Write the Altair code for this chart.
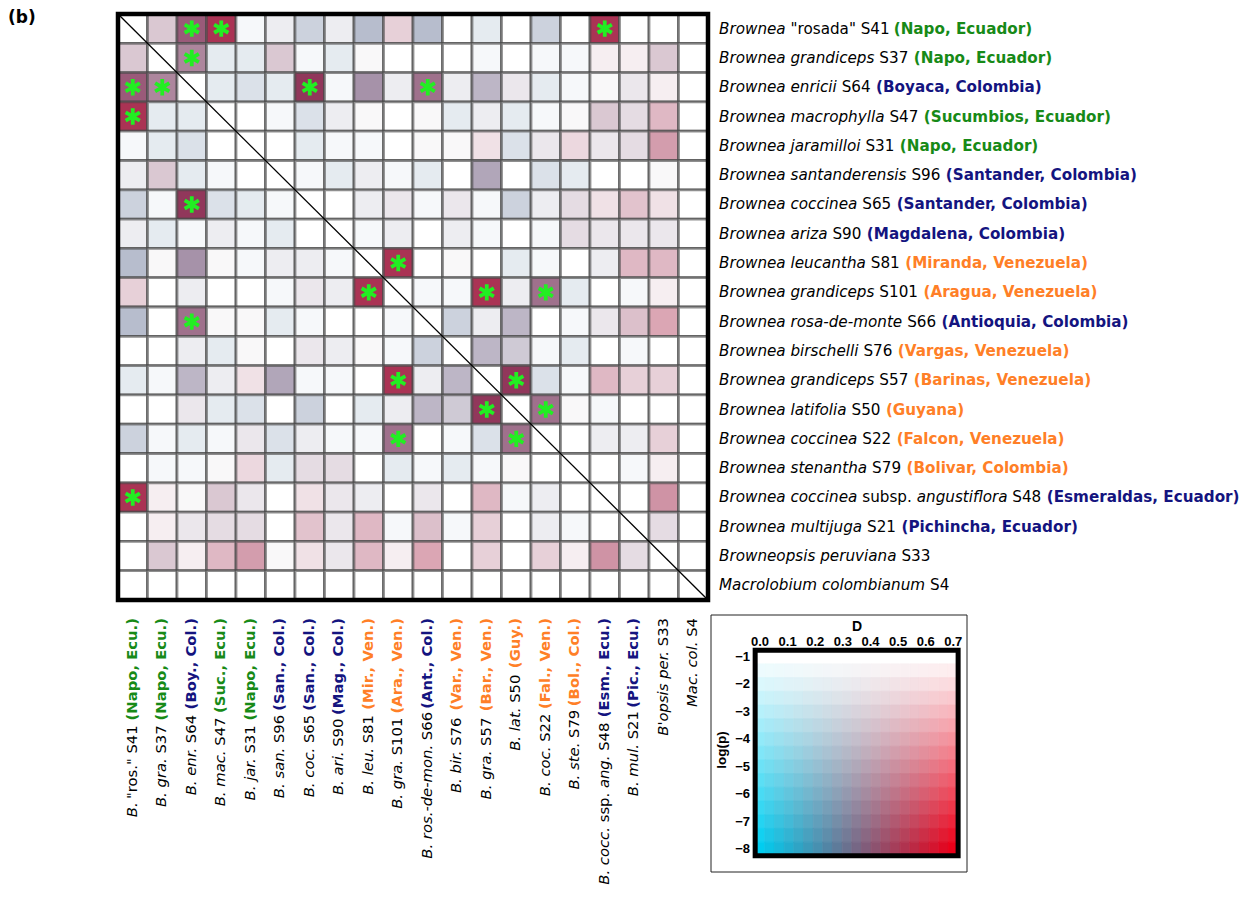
import altair as alt
import pandas as pd

# ---------------- data ----------------
RIGHT_LABELS = [
    '_Brownea_ "rosada" S41', '_Brownea grandiceps_ S37', '_Brownea enricii_ S64',
    '_Brownea macrophylla_ S47', '_Brownea jaramilloi_ S31', '_Brownea santanderensis_ S96',
    '_Brownea coccinea_ S65', '_Brownea ariza_ S90', '_Brownea leucantha_ S81',
    '_Brownea grandiceps_ S101', '_Brownea rosa-de-monte_ S66', '_Brownea birschelli_ S76',
    '_Brownea grandiceps_ S57', '_Brownea latifolia_ S50', '_Brownea coccinea_ S22',
    '_Brownea stenantha_ S79', '_Brownea coccinea_ subsp. _angustiflora_ S48',
    '_Brownea multijuga_ S21', '_Browneopsis peruviana_ S33', '_Macrolobium colombianum_ S4',
]
RIGHT_LOCS = [
    'Napo, Ecuador', 'Napo, Ecuador', 'Boyaca, Colombia', 'Sucumbios, Ecuador', 'Napo, Ecuador',
    'Santander, Colombia', 'Santander, Colombia', 'Magdalena, Colombia', 'Miranda, Venezuela',
    'Aragua, Venezuela', 'Antioquia, Colombia', 'Vargas, Venezuela', 'Barinas, Venezuela',
    'Guyana', 'Falcon, Venezuela', 'Bolivar, Colombia', 'Esmeraldas, Ecuador',
    'Pichincha, Ecuador', '', '',
]
BOTTOM_LABELS = [
    '_B._ "ros." S41', '_B. gra._ S37', '_B. enr._ S64', '_B. mac._ S47', '_B. jar._ S31',
    '_B. san._ S96', '_B. coc._ S65', '_B. ari._ S90', '_B. leu._ S81', '_B. gra._ S101',
    '_B. ros.-de-mon._ S66', '_B. bir._ S76', '_B. gra._ S57', '_B. lat._ S50', '_B. coc._ S22',
    '_B. ste._ S79', '_B. cocc._ ssp. _ang._ S48', '_B. mul._ S21', "_B'opsis per._ S33",
    '_Mac. col._ S4',
]
BOTTOM_LOCS = [
    'Napo, Ecu.', 'Napo, Ecu.', 'Boy., Col.', 'Suc., Ecu.', 'Napo, Ecu.', 'San., Col.',
    'San., Col.', 'Mag., Col.', 'Mir., Ven.', 'Ara., Ven.', 'Ant., Col.', 'Var., Ven.',
    'Bar., Ven.', 'Guy.', 'Fal., Ven.', 'Bol., Col.', 'Esm., Ecu.', 'Pic., Ecu.', '', '',
]
GROUPS = [
    'Amazonian Ecuador', 'Amazonian Ecuador', 'Colombia / W Ecuador', 'Amazonian Ecuador',
    'Amazonian Ecuador', 'Colombia / W Ecuador', 'Colombia / W Ecuador', 'Colombia / W Ecuador',
    'Venezuela / Guyana', 'Venezuela / Guyana', 'Colombia / W Ecuador', 'Venezuela / Guyana',
    'Venezuela / Guyana', 'Venezuela / Guyana', 'Venezuela / Guyana', 'Venezuela / Guyana',
    'Colombia / W Ecuador', 'Colombia / W Ecuador', 'outgroup', 'outgroup',
]
GROUP_NAMES = ['Amazonian Ecuador', 'Colombia / W Ecuador', 'Venezuela / Guyana', 'outgroup']
GROUP_COLORS = ['#178a17', '#14147f', '#ff7f27', '#000000']

# lower triangle (row i, columns 0..i-1); matrix is symmetric. Row 19 (outgroup) has no test.
D_LOWER = [
    [],
    [0.45],
    [0.50, 0.45],
    [0.68, 0.12, 0.12],
    [0.10, 0.12, 0.15, 0.20],
    [0.25, 0.45, 0.12, 0.10, 0.20],
    [0.18, 0.10, 0.55, 0.15, 0.12, 0.10],
    [0.25, 0.12, 0.10, 0.25, 0.10, 0.12, 0.20],
    [0.20, 0.35, 0.35, 0.35, 0.10, 0.25, 0.25, 0.10],
    [0.60, 0.20, 0.25, 0.20, 0.20, 0.10, 0.35, 0.25, 0.68],
    [0.20, 0.20, 0.45, 0.35, 0.35, 0.12, 0.10, 0.20, 0.20, 0.10],
    [0.20, 0.20, 0.25, 0.12, 0.35, 0.20, 0.35, 0.25, 0.35, 0.10, 0.18],
    [0.12, 0.10, 0.30, 0.25, 0.60, 0.32, 0.10, 0.10, 0.20, 0.68, 0.25, 0.30],
    [0.20, 0.20, 0.35, 0.12, 0.15, 0.20, 0.18, 0.20, 0.12, 0.25, 0.30, 0.30, 0.55],
    [0.18, 0.10, 0.12, 0.10, 0.35, 0.15, 0.25, 0.10, 0.10, 0.45, 0.20, 0.10, 0.15, 0.45],
    [0.20, 0.10, 0.10, 0.35, 0.62, 0.12, 0.40, 0.40, 0.20, 0.12, 0.10, 0.12, 0.10, 0.35, 0.20],
    [0.68, 0.55, 0.35, 0.45, 0.35, 0.20, 0.60, 0.35, 0.25, 0.20, 0.35, 0.20, 0.65, 0.10, 0.25, 0.20],
    [0.20, 0.55, 0.35, 0.40, 0.40, 0.20, 0.62, 0.35, 0.65, 0.10, 0.55, 0.10, 0.60, 0.20, 0.25, 0.10, 0.20],
    [0.20, 0.45, 0.55, 0.65, 0.65, 0.35, 0.60, 0.35, 0.65, 0.55, 0.70, 0.20, 0.60, 0.20, 0.60, 0.55, 0.65, 0.40],
]
LOGP_LOWER = [
    [],
    [-3.1],
    [-7.0, -5.6],
    [-7.5, -2.05, -2.05],
    [-1.35, -2.05, -2.5, -1.0],
    [-1.8, -3.1, -2.05, -1.35, -1.0],
    [-3.2, -1.35, -8.0, -2.5, -2.05, -1.35],
    [-1.8, -2.05, -1.35, -1.8, -1.35, -2.05, -1.0],
    [-4.15, -1.3, -5.5, -1.3, -1.35, -1.8, -1.8, -1.35],
    [-2.6, -1.0, -1.8, -1.0, -1.0, -1.35, -2.0, -1.8, -7.5],
    [-4.15, -1.0, -6.4, -1.3, -1.3, -2.05, -1.35, -1.0, -1.0, -1.35],
    [-1.0, -1.0, -1.8, -2.05, -1.3, -1.0, -2.0, -1.8, -1.3, -1.35, -3.2],
    [-2.05, -1.35, -4.15, -1.8, -2.0, -4.8, -1.35, -1.35, -1.0, -7.5, -1.8, -4.15],
    [-1.0, -1.0, -2.0, -2.05, -2.5, -1.0, -3.2, -1.0, -2.05, -1.8, -4.15, -3.3, -8.0],
    [-3.2, -1.35, -2.05, -1.35, -2.0, -2.5, -1.8, -1.35, -1.35, -6.4, -1.0, -1.35, -2.5, -6.4],
    [-1.0, -1.35, -1.35, -1.3, -2.3, -2.05, -2.4, -2.4, -1.0, -2.05, -1.35, -2.05, -1.35, -1.3, -1.0],
    [-7.5, -1.6, -1.3, -3.1, -2.0, -1.0, -2.0, -2.0, -1.8, -1.0, -2.0, -1.0, -3.3, -1.35, -1.8, -1.0],
    [-1.0, -1.6, -2.0, -2.4, -2.4, -1.0, -3.0, -2.0, -3.3, -1.35, -3.2, -1.35, -2.6, -1.0, -1.8, -1.35, -1.0],
    [-1.0, -3.1, -1.6, -3.3, -4.2, -1.3, -2.0, -2.0, -3.3, -1.6, -3.8, -1.0, -2.6, -1.0, -2.6, -1.6, -4.5, -2.4],
]
SIG_PAIRS = [(2, 0), (2, 1), (3, 0), (6, 2), (9, 8), (10, 2), (12, 9), (13, 12), (14, 9), (14, 13), (16, 0)]

LEG_D_TICKS = [0.0, 0.1, 0.2, 0.3, 0.4, 0.5, 0.6, 0.7]
LEG_P_TICKS = [-1, -2, -3, -4, -5, -6, -7, -8]
LEG_D_STEPS = [round(0.035 * k, 4) for k in range(21)]
LEG_P_STEPS = [-1 - 0.5 * k for k in range(15)]

# ---------------- layout ----------------
W, H = 1239, 884
N = len(RIGHT_LABELS)
FONT = 'DejaVu Sans'
FS_RIGHT = 15.2
FS_BOTTOM = 14.8
MX = alt.Scale(domain=[0, N], range=[110, 700], nice=False, zero=False)
MY = alt.Scale(domain=[0, N], range=[6, 592], nice=False, zero=False)
PX = alt.Scale(domain=[0, W], range=[0, W], nice=False, zero=False)
PY = alt.Scale(domain=[0, H], range=[0, H], nice=False, zero=False)
LX = alt.Scale(domain=[0, 0.7], range=[752, 945.3], nice=False, zero=False)
LY = alt.Scale(domain=[-1, -8], range=[649, 841], nice=False, zero=False)
RIGHT_X0 = 711
BOTTOM_Y0 = 610

# DejaVu Sans advance widths (units per 2048 em)
GLYPH = {' ': 651, '"': 821, "'": 563, '(': 799, ')': 799, ',': 651, '-': 739, '.': 651,
         'A': 1401, 'B': 1405, 'C': 1430, 'D': 1577, 'E': 1294, 'F': 1178, 'G': 1587, 'H': 1540,
         'I': 604, 'M': 1767, 'N': 1532, 'P': 1235, 'S': 1300, 'V': 1401,
         'a': 1255, 'b': 1300, 'c': 1126, 'd': 1300, 'e': 1260, 'f': 721, 'g': 1300, 'h': 1298,
         'i': 569, 'j': 569, 'k': 1186, 'l': 569, 'm': 1995, 'n': 1298, 'o': 1253, 'p': 1300,
         'q': 1300, 'r': 842, 's': 1067, 't': 803, 'u': 1298, 'v': 1212, 'w': 1675, 'x': 1212,
         'y': 1212, 'z': 1075}
for dgt in '0123456789':
    GLYPH[dgt] = 1303


def text_w(s, bold, fs):
    return sum(GLYPH.get(ch, 1250) for ch in s) / 2048 * fs * (1.12 if bold else 1.0)


def segments(label, loc):
    segs = []
    for i, part in enumerate(label.split('_')):
        if part:
            segs.append((part, 'italic' if i % 2 else 'normal'))
    if loc:
        segs.append((' (' + loc + ')', 'bold'))
    return segs


right_rows, bottom_rows = [], []
for i in range(N):
    off = 0.0
    for txt, sty in segments(RIGHT_LABELS[i], RIGHT_LOCS[i]):
        lead = txt[:len(txt) - len(txt.lstrip())]
        right_rows.append(dict(px=RIGHT_X0 + off + text_w(lead, sty == 'bold', FS_RIGHT), ry=i + 0.5,
                               text=txt.strip(), style=sty, group=GROUPS[i]))
        off += text_w(txt, sty == 'bold', FS_RIGHT)
    off = 0.0
    for txt, sty in reversed(segments(BOTTOM_LABELS[i], BOTTOM_LOCS[i])):
        trail = txt[len(txt.rstrip()):]
        bottom_rows.append(dict(cx=i + 0.5, py=BOTTOM_Y0 + off + text_w(trail, sty == 'bold', FS_BOTTOM),
                                text=txt.strip(), style=sty, group=GROUPS[i]))
        off += text_w(txt, sty == 'bold', FS_BOTTOM)
right_df = pd.DataFrame(right_rows)
bottom_df = pd.DataFrame(bottom_rows)

cells = []
for r in range(N):
    for c in range(N):
        D = P = None
        if r != c and max(r, c) < len(D_LOWER):
            a, b = max(r, c), min(r, c)
            D, P = D_LOWER[a][b], LOGP_LOWER[a][b]
        cells.append(dict(c0=c, c1=c + 1, r0=r, r1=r + 1, D=D, logp=P))
cells_df = pd.DataFrame(cells)

sig = []
for a, b in SIG_PAIRS:
    sig.append(dict(cx=b + 0.5, ry=a + 0.5))
    sig.append(dict(cx=a + 0.5, ry=b + 0.5))
sig_df = pd.DataFrame(sig)

leg = []
for d in LEG_D_STEPS:
    for p in LEG_P_STEPS:
        leg.append(dict(D=d, logp=p, d0=d - 0.0175, d1=d + 0.0175, p0=p + 0.25, p1=p - 0.25))
leg_df = pd.DataFrame(leg)

# ---------------- layers ----------------
T_EXPR = 'isValid(datum.logp) ? clamp((-1 - datum.logp) / 7, 0, 1) : 0'
DN_EXPR = 'isValid(datum.D) ? clamp(datum.D / 0.7, 0, 1) : 0'


def rgb_expr(r, g, b):
    def ch(base):
        return "round(255 + ((%s) - 255) * datum.t)" % base
    return "'rgb(' + %s + ',' + %s + ',' + %s + ')'" % (ch(r), ch(g), ch(b))


MAT_FILL = rgb_expr('66 + 100 * datum.dn', '140 - 108 * datum.dn', '174 - 106 * datum.dn')
LEG_FILL = rgb_expr('235 * datum.dn', '205 * (1 - datum.dn)', '240 * (1 - datum.dn) + 25 * datum.dn')

cell_layer = alt.Chart(cells_df).transform_calculate(t=T_EXPR, dn=DN_EXPR).transform_calculate(
    fill=MAT_FILL).mark_rect(stroke='#4a4a4a', strokeOpacity=0.62, strokeWidth=2.8).encode(
    x=alt.X('c0:Q', scale=MX, axis=None), x2='c1:Q',
    y=alt.Y('r0:Q', scale=MY, axis=None), y2='r1:Q',
    fill=alt.Fill('fill:N', scale=None))

star_layer = alt.Chart(sig_df).mark_point(
    shape='M0,-1L0,1M-0.866,-0.5L0.866,0.5M-0.866,0.5L0.866,-0.5', size=270, filled=False,
    color='#22ee22', strokeWidth=3.8, opacity=1, strokeCap='butt').encode(
    x=alt.X('cx:Q', scale=MX, axis=None), y=alt.Y('ry:Q', scale=MY, axis=None))

frame_df = pd.DataFrame([dict(a=0, b=N)])
diag_layer = alt.Chart(frame_df).mark_rule(color='black', strokeWidth=1.3).encode(
    x=alt.X('a:Q', scale=MX, axis=None), x2='b:Q',
    y=alt.Y('a:Q', scale=MY, axis=None), y2='b:Q')
border_layer = alt.Chart(frame_df).mark_rect(fillOpacity=0, stroke='black', strokeWidth=4.5).encode(
    x=alt.X('a:Q', scale=MX, axis=None), x2='b:Q',
    y=alt.Y('a:Q', scale=MY, axis=None), y2='b:Q')

GROUP_SCALE = alt.Scale(domain=GROUP_NAMES, range=GROUP_COLORS)


def label_layer(df, style, bottom):
    kw = dict(font=FONT, baseline='middle')
    if bottom:
        kw.update(align='right', angle=270, fontSize=FS_BOTTOM)
    else:
        kw.update(align='left', fontSize=FS_RIGHT)
    if style == 'italic':
        kw['fontStyle'] = 'italic'
    if style == 'bold':
        kw['fontWeight'] = 'bold'
    ch = alt.Chart(df[df['style'] == style]).mark_text(**kw)
    if bottom:
        enc = dict(x=alt.X('cx:Q', scale=MX, axis=None), y=alt.Y('py:Q', scale=PY, axis=None))
    else:
        enc = dict(x=alt.X('px:Q', scale=PX, axis=None), y=alt.Y('ry:Q', scale=MY, axis=None))
    enc['text'] = 'text:N'
    if style == 'bold':
        enc['color'] = alt.Color('group:N', scale=GROUP_SCALE, legend=None)
    else:
        enc['color'] = alt.value('black')
    return ch.encode(**enc)


# legend
box_df = pd.DataFrame([dict(x0=703, x1=959, y0=607, y1=864)])
leg_box = alt.Chart(box_df).mark_rect(fillOpacity=0, stroke='#222222', strokeWidth=1).encode(
    x=alt.X('x0:Q', scale=PX, axis=None), x2='x1:Q',
    y=alt.Y('y0:Q', scale=PY, axis=None), y2='y1:Q')

leg_cells = alt.Chart(leg_df).transform_calculate(t=T_EXPR, dn=DN_EXPR).transform_calculate(
    fill=LEG_FILL).mark_rect(strokeWidth=0.8).encode(
    x=alt.X('d0:Q', scale=LX, axis=None), x2='d1:Q',
    y=alt.Y('p0:Q', scale=LY, axis=None), y2='p1:Q',
    fill=alt.Fill('fill:N', scale=None), stroke=alt.Stroke('fill:N', scale=None))

sq_df = pd.DataFrame([dict(d0=LEG_D_STEPS[0] - 0.0175, d1=LEG_D_STEPS[-1] + 0.0175,
                           p0=LEG_P_STEPS[0] + 0.25, p1=LEG_P_STEPS[-1] - 0.25)])
leg_sq = alt.Chart(sq_df).mark_rect(fillOpacity=0, stroke='black', strokeWidth=5).encode(
    x=alt.X('d0:Q', scale=LX, axis=None), x2='d1:Q',
    y=alt.Y('p0:Q', scale=LY, axis=None), y2='p1:Q')

LFONT = 'Liberation Sans'
dtick_df = pd.DataFrame(dict(D=LEG_D_TICKS, lab=['%.1f' % v for v in LEG_D_TICKS]))
leg_dticks = alt.Chart(dtick_df).mark_text(font=LFONT, fontSize=13, fontWeight='bold',
                                           baseline='middle', align='center').encode(
    x=alt.X('D:Q', scale=LX, axis=None), y=alt.value(634), text='lab:N')

ptick_df = pd.DataFrame(dict(P=LEG_P_TICKS, lab=['\u2212%d' % abs(v) for v in LEG_P_TICKS]))
leg_pticks = alt.Chart(ptick_df).mark_text(font=LFONT, fontSize=13, fontWeight='bold',
                                           baseline='middle', align='right').encode(
    x=alt.value(742), y=alt.Y('P:Q', scale=LY, axis=None), text='lab:N')

title_df = pd.DataFrame([dict(t='D')])
leg_dtitle = alt.Chart(title_df).mark_text(font=LFONT, fontSize=14, fontWeight='bold',
                                           baseline='middle', align='center').encode(
    x=alt.value(849), y=alt.value(619), text='t:N')
ptitle_df = pd.DataFrame([dict(t='log(p)')])
leg_ptitle = alt.Chart(ptitle_df).mark_text(font=LFONT, fontSize=13.5, fontWeight='bold',
                                            baseline='middle', align='center', angle=270).encode(
    x=alt.value(714), y=alt.value(742), text='t:N')

panel_df = pd.DataFrame([dict(t='(b)')])
panel_label = alt.Chart(panel_df).mark_text(font=FONT, fontSize=17, fontWeight='bold',
                                            baseline='middle', align='left').encode(
    x=alt.value(0), y=alt.value(10), text='t:N')

layers = [cell_layer, star_layer, diag_layer, border_layer,
          label_layer(right_df, 'italic', False), label_layer(right_df, 'normal', False),
          label_layer(right_df, 'bold', False),
          label_layer(bottom_df, 'italic', True), label_layer(bottom_df, 'normal', True),
          label_layer(bottom_df, 'bold', True),
          leg_box, leg_cells, leg_sq, leg_dticks, leg_pticks, leg_dtitle, leg_ptitle, panel_label]

chart = alt.layer(*layers).resolve_scale(
    x='independent', y='independent', color='independent', fill='independent',
    stroke='independent'
).properties(
    width=W, height=H, padding=0, autosize=alt.AutoSizeParams(type='none')
).configure_view(strokeWidth=0)

chart.save('out.html', embed_options={'renderer': 'svg', 'actions': False})
